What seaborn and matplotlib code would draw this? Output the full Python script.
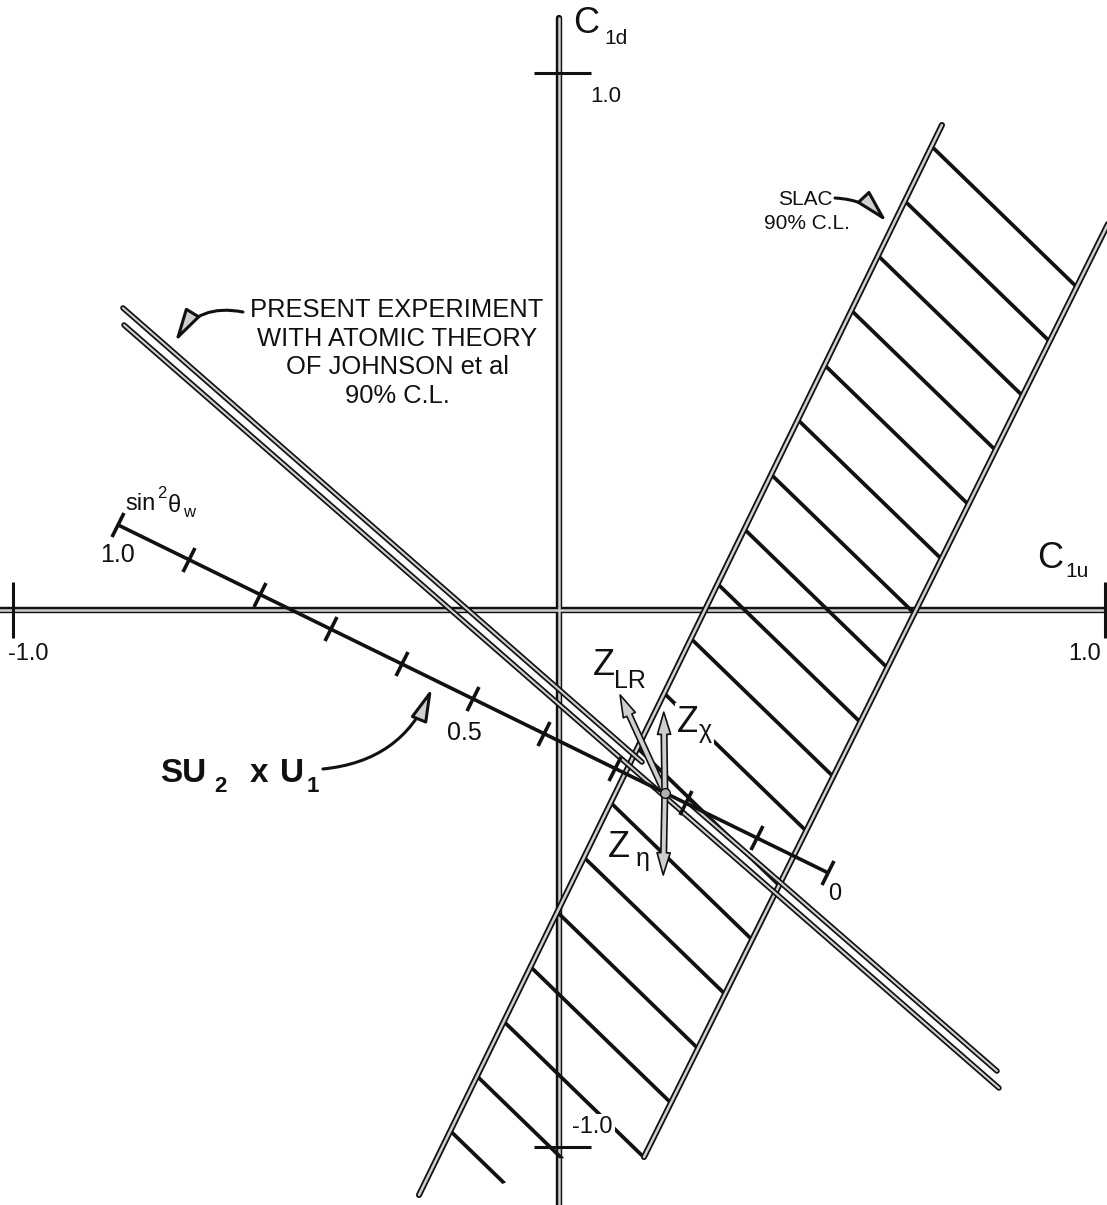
import numpy as np
import matplotlib
matplotlib.use("Agg")
import matplotlib.pyplot as plt
import seaborn as sns
from matplotlib.markers import MarkerStyle
from matplotlib.transforms import Affine2D
from matplotlib.patches import Polygon, FancyArrowPatch

# ---------------------------------------------------------------- data
# C1u (horizontal) and C1d (vertical) axis tick values
axis_ticks = [-1.0, 1.0]

# SU(2) x U(1) prediction: (C1u, C1d) at the two ends of the sin^2(theta_w) scale
su2_one = (-0.808, 0.158)      # sin^2 theta_w = 1.0
su2_zero = (0.492, -0.489)     # sin^2 theta_w = 0
sin2_ticks = [1.0, 0.9, 0.8, 0.7, 0.6, 0.5, 0.4, 0.3, 0.2, 0.1, 0.0]
sin2_sm = 0.23

# Extra neutral bosons: end points of the displacement arrows
z_lr_tip = (0.111, -0.158)
z_chi_tip = (0.191, -0.190)
z_eta_tip = (0.190, -0.493)

# SLAC 90% C.L. band (left / right boundaries, lower cut of the hatching)
slac_left_c1u = [0.7005, -0.2573]
slac_left_c1d = [0.9023, -1.0884]
slac_right_c1u = [1.030, 0.1548]
slac_right_c1d = [0.770, -1.0177]
slac_bottom_c1u = [0.0, -0.12]
slac_bottom_c1d = [-1.02, -1.075]
hatch_slope = -0.985
hatch_offsets = [1.534, 1.384, 1.234, 1.084, 0.934, 0.784, 0.634, 0.484, 0.334,
                 0.184, 0.034, -0.116, -0.266, -0.416, -0.566, -0.716, -0.866,
                 -1.016, -1.166]

# Present experiment with atomic theory, 90% C.L. (two boundary lines)
exp_upper_c1u = [[-0.7995, 0.1511], [0.2354, 0.8013]]
exp_upper_c1d = [[0.5619, -0.2828], [-0.3572, -0.8577]]
exp_lower_c1u = [[-0.7976, 0.8049]]
exp_lower_c1d = [[0.5302, -0.8893]]

# ---------------------------------------------------------------- figure
W, H = 1107, 1205
sns.set_theme(style="white")
plt.rcParams["font.family"] = ["Liberation Sans", "DejaVu Sans"]

fig = plt.figure(figsize=(W / 100, H / 100), dpi=100)
ax = fig.add_axes([0, 0, 1, 1])
ax.set_xlim(-1.0247, 1.0028)
ax.set_ylim(-1.1070, 1.1349)
ax.axis("off")

INK = "#111111"
FILL = "#cfcfcf"


def solid(xs, ys, lw=2.5, z=3, **kw):
    sns.lineplot(x=list(xs), y=list(ys), ax=ax, color=INK, linewidth=lw,
                 sort=False, estimator=None, zorder=z,
                 solid_capstyle="butt", **kw)
    return ax.lines[-1]


def hollow(xs, ys, w_out=4.2, w_in=1.6, z=4):
    sns.lineplot(x=list(xs), y=list(ys), ax=ax, color=INK, linewidth=w_out,
                 sort=False, estimator=None, zorder=z, solid_capstyle="round")
    sns.lineplot(x=list(xs), y=list(ys), ax=ax, color=FILL, linewidth=w_in,
                 sort=False, estimator=None, zorder=z + 0.1,
                 solid_capstyle="round")


def ptext(px, py, s, size, ha="left", mask=False, **kw):
    box = dict(fc="white", ec="none", pad=1.5) if mask else None
    fig.text(px / W, 1 - py / H, s, fontsize=size, ha=ha, va="baseline",
             color=INK, bbox=box, **kw)


# ---- coordinate axes
hollow([-1.03, 1.03], [0, 0], w_out=4.6, w_in=1.8, z=2)
hollow([0, 0], [1.101, -1.2], w_out=4.6, w_in=1.8, z=2)
for t in axis_ticks:
    solid([t, t], [-0.053, 0.053], lw=2.2)
    solid([-0.047, 0.058], [t, t], lw=2.2)

# ---- SLAC band: hatching clipped to the band, then the boundaries
band = Polygon(list(zip([slac_left_c1u[0], slac_right_c1u[0], slac_right_c1u[1]]
                        + slac_bottom_c1u + [slac_left_c1u[1]],
                        [slac_left_c1d[0], slac_right_c1d[0], slac_right_c1d[1]]
                        + slac_bottom_c1d + [slac_left_c1d[1]])),
               closed=True, transform=ax.transData)
hx = np.array([-0.5, 1.2])
for b in hatch_offsets:
    ln = solid(hx, b + hatch_slope * hx, lw=2.7, z=2.5)
    ln.set_clip_path(band)
hollow(slac_left_c1u, slac_left_c1d, w_out=4.4, w_in=1.8, z=4)
hollow(slac_right_c1u, slac_right_c1d, w_out=4.4, w_in=1.8, z=4)

# ---- present experiment band
for xs, ys in zip(exp_upper_c1u + exp_lower_c1u, exp_upper_c1d + exp_lower_c1d):
    hollow(xs, ys, w_out=4.0, w_in=1.5, z=4.5)

# ---- SU(2) x U(1) line with its sin^2 theta_w scale
solid([su2_one[0], su2_zero[0]], [su2_one[1], su2_zero[1]], lw=2.6, z=5)
s = np.array(sin2_ticks)
tx = su2_zero[0] + s * (su2_one[0] - su2_zero[0])
ty = su2_zero[1] + s * (su2_one[1] - su2_zero[1])
p0 = ax.transData.transform(su2_one)
p1 = ax.transData.transform(su2_zero)
ang = np.degrees(np.arctan2(p1[1] - p0[1], p1[0] - p0[0]))
tick_marker = MarkerStyle("|", transform=Affine2D().rotate_deg(ang))
ax.plot(tx, ty, ls="none", marker=tick_marker, markersize=19,
        markeredgewidth=2.6, color=INK, zorder=5)

# Standard-model point and displacement arrows
smx = su2_zero[0] + sin2_sm * (su2_one[0] - su2_zero[0])
smy = su2_zero[1] + sin2_sm * (su2_one[1] - su2_zero[1])
for tip in (z_lr_tip, z_chi_tip, z_eta_tip):
    ax.add_patch(FancyArrowPatch(
        (smx, smy), tip,
        arrowstyle="simple,head_length=1.6,head_width=0.95,tail_width=0.4",
        mutation_scale=10, fc=FILL, ec=INK, lw=1.2, shrinkA=0, shrinkB=0,
        zorder=7))
ax.plot([smx], [smy], marker="o", ms=7, mfc="#b0b0b0", mec=INK, mew=1.0,
        zorder=8)

# ---- curved pointer arrows
pointer = dict(arrowstyle="-|>,head_length=1.0,head_width=0.26", lw=2.2,
               fc=FILL, ec=INK, shrinkA=0, shrinkB=0, mutation_scale=20)
ax.annotate("", xy=(-0.2335, -0.1451), xytext=(-0.4332, -0.2958),
            arrowprops=dict(connectionstyle="arc3,rad=0.3", **pointer),
            zorder=6)
ax.annotate("", xy=(-0.7042, 0.4986), xytext=(-0.5797, 0.5544),
            arrowprops=dict(connectionstyle="arc3,rad=0.35", **pointer),
            zorder=6)
ax.annotate("", xy=(0.5998, 0.7219), xytext=(0.5046, 0.7665),
            arrowprops=dict(connectionstyle="arc3,rad=-0.2", **pointer),
            zorder=6)

# ---- labels
ptext(573, 33, "C", 26)
ptext(604, 44, "1d", 15)
ptext(1037, 568, "C", 26)
ptext(1065, 577, "1u", 15)
ptext(590, 102, "1.0", 16)
ptext(8, 660, "-1.0", 17)
ptext(1068, 660, "1.0", 17)
ptext(572, 1133, "-1.0", 17, mask=True)

ptext(125, 510, "sin", 17)
ptext(157, 498, "2", 12)
ptext(168, 512, "θ", 17)
ptext(183, 517, "w", 12)
ptext(100, 562, "1.0", 18)
ptext(447, 740, "0.5", 18)
ptext(828, 900, "0", 17)

ptext(160, 782, "SU", 24, weight="bold")
ptext(214, 792, "2", 16, weight="bold")
ptext(250, 782, "x", 24, weight="bold")
ptext(280, 782, "U", 24, weight="bold")
ptext(307, 792, "1", 16, weight="bold")

ptext(593, 675, "Z", 26)
ptext(614, 688, "LR", 18)
ptext(677, 732, "Z", 26, mask=True)
ptext(699, 738, "χ", 18, mask=True)
ptext(608, 857, "Z", 26)
ptext(636, 866, "η", 18)

for i, line in enumerate(["PRESENT EXPERIMENT", "WITH ATOMIC THEORY",
                          "OF JOHNSON et al", "90% C.L."]):
    ptext(397, 317 + 28.7 * i, line, 18.4, ha="center")
ptext(805, 205, "SLAC", 15, ha="center")
ptext(807, 229, "90% C.L.", 15, ha="center")

fig.savefig("out.png", dpi=100)
